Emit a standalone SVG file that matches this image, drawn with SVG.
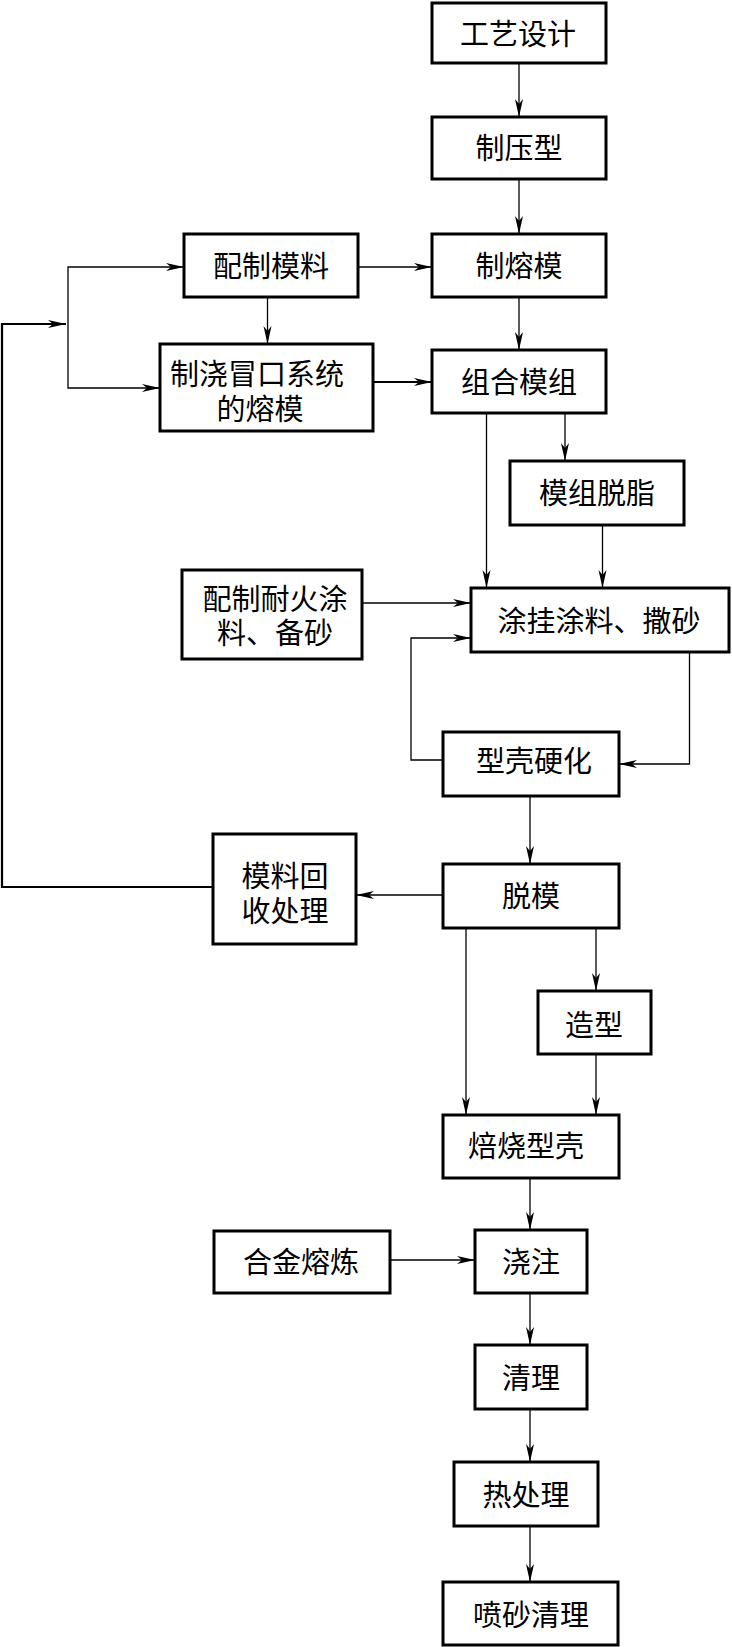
<svg xmlns="http://www.w3.org/2000/svg" width="732" height="1647" viewBox="0 0 732 1647">
<style>
.box{fill:#fff;stroke:#000;stroke-width:3}
.t{font-family:"Noto Sans CJK SC","Liberation Serif",sans-serif;font-size:29px;fill:#000;text-anchor:middle}
.c{fill:none;stroke:#000;stroke-width:1.3}
.k{fill:none;stroke:#000;stroke-width:2.2}
</style>
<defs>
<marker id="a" markerUnits="userSpaceOnUse" markerWidth="20" markerHeight="10" viewBox="0 -5 20 10" refX="18" refY="0" orient="auto">
<path d="M0,-4 L18,0 L0,4 L5,0 Z" fill="#000"/>
</marker>
</defs>
<rect width="732" height="1647" fill="#fff"/>
<g id="connectors">
<path class="c" d="M519,63 V117" marker-end="url(#a)"/>
<path class="c" d="M519,179 V234" marker-end="url(#a)"/>
<path class="c" d="M519,297 V350" marker-end="url(#a)"/>
<path class="c" d="M358,267 H432" marker-end="url(#a)"/>
<path class="c" d="M267.5,297 V344" marker-end="url(#a)"/>
<path class="k" d="M373,382 H432" marker-end="url(#a)"/>
<path class="k" d="M213,887 H2 V324 H66" marker-end="url(#a)"/>
<path class="c" d="M68,324 V267 H184" marker-end="url(#a)"/>
<path class="c" d="M68,324 V388 H160" marker-end="url(#a)"/>
<path class="c" d="M486.5,413 V588" marker-end="url(#a)"/>
<path class="c" d="M565,413 V461" marker-end="url(#a)"/>
<path class="c" d="M602.5,525 V588" marker-end="url(#a)"/>
<path class="c" d="M362,603 H471" marker-end="url(#a)"/>
<path class="c" d="M443,760 H411 V638 H471" marker-end="url(#a)"/>
<path class="c" d="M689.5,652 V764 H619" marker-end="url(#a)"/>
<path class="c" d="M530,796 V864" marker-end="url(#a)"/>
<path class="c" d="M443,895 H356" marker-end="url(#a)"/>
<path class="c" d="M466,928 V1115" marker-end="url(#a)"/>
<path class="c" d="M596,928 V991" marker-end="url(#a)"/>
<path class="c" d="M596,1054 V1115" marker-end="url(#a)"/>
<path class="c" d="M530,1178 V1230" marker-end="url(#a)"/>
<path class="c" d="M390,1260 H475" marker-end="url(#a)"/>
<path class="c" d="M530,1293 V1345" marker-end="url(#a)"/>
<path class="c" d="M530,1409 V1462" marker-end="url(#a)"/>
<path class="c" d="M530,1526 V1582" marker-end="url(#a)"/>
</g>
<g id="n1"><rect class="box" x="432" y="3" width="174" height="60"/><text class="t" x="518" y="45">工艺设计</text></g>
<g id="n2"><rect class="box" x="432" y="117" width="174" height="62"/><text class="t" x="519" y="159">制压型</text></g>
<g id="n3"><rect class="box" x="432" y="234" width="174" height="63"/><text class="t" x="519" y="277">制熔模</text></g>
<g id="n4"><rect class="box" x="432" y="350" width="174" height="63"/><text class="t" x="519" y="393">组合模组</text></g>
<g id="n5"><rect class="box" x="184" y="234" width="174" height="63"/><text class="t" x="271" y="277">配制模料</text></g>
<g id="n6"><rect class="box" x="160" y="344" width="213" height="87"/><text class="t" y="385"><tspan x="257">制浇冒口系统</tspan><tspan x="260" dy="35">的熔模</tspan></text></g>
<g id="n7"><rect class="box" x="510" y="461" width="174" height="64"/><text class="t" x="597" y="504">模组脱脂</text></g>
<g id="n8"><rect class="box" x="471" y="588" width="258" height="64"/><text class="t" x="599" y="632">涂挂涂料、撒砂</text></g>
<g id="n9"><rect class="box" x="182" y="570" width="180" height="89"/><text class="t" y="610"><tspan x="275">配制耐火涂</tspan><tspan x="275" dy="34">料、备砂</tspan></text></g>
<g id="n10"><rect class="box" x="443" y="732" width="176" height="64"/><text class="t" x="534" y="772">型壳硬化</text></g>
<g id="n11"><rect class="box" x="443" y="864" width="176" height="64"/><text class="t" x="531" y="907">脱模</text></g>
<g id="n12"><rect class="box" x="213" y="834" width="143" height="110"/><text class="t" y="887"><tspan x="285">模料回</tspan><tspan x="285" dy="35">收处理</tspan></text></g>
<g id="n13"><rect class="box" x="538" y="991" width="113" height="63"/><text class="t" x="594" y="1036">造型</text></g>
<g id="n14"><rect class="box" x="443" y="1115" width="176" height="63"/><text class="t" x="526" y="1157">焙烧型壳</text></g>
<g id="n15"><rect class="box" x="475" y="1230" width="112" height="63"/><text class="t" x="531" y="1273">浇注</text></g>
<g id="n16"><rect class="box" x="214" y="1231" width="176" height="62"/><text class="t" x="301" y="1273">合金熔炼</text></g>
<g id="n17"><rect class="box" x="475" y="1345" width="112" height="64"/><text class="t" x="531" y="1389">清理</text></g>
<g id="n18"><rect class="box" x="454" y="1462" width="144" height="64"/><text class="t" x="526" y="1506">热处理</text></g>
<g id="n19"><rect class="box" x="443" y="1582" width="175" height="63"/><text class="t" x="531" y="1626">喷砂清理</text></g>
</svg>
